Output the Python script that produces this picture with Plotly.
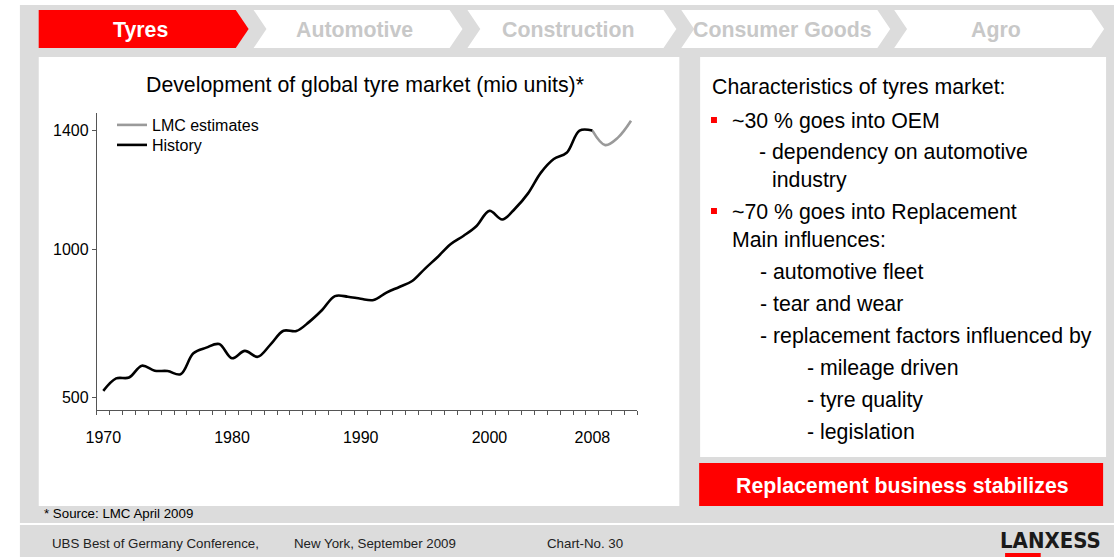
import plotly.graph_objects as go

W, H = 1114, 557

# ---------------- data ----------------
hist_years = list(range(1970, 2009))
hist_values = [522, 564, 567, 607, 590, 589, 578, 649, 668, 680,
               632, 657, 637, 679, 725, 724, 755, 795, 842, 840,
               833, 829, 854, 873, 893, 935, 975, 1018, 1046, 1079,
               1130, 1101, 1138, 1189, 1259, 1305, 1326, 1401, 1401]
est_years = [2008, 2009, 2010, 2011]
est_values = [1401, 1352, 1378, 1434]

x_tick_vals = [1970, 1980, 1990, 2000, 2008]
x_tick_text = ["1970", "1980", "1990", "2000", "2008"]
y_tick_vals = [500, 1000, 1400]

tabs = ["Tyres", "Automotive", "Construction", "Consumer Goods", "Agro"]

right_lines = [
    # (text, x, y, bullet)
    ("Characteristics of tyres market:", 706, 87, False),
    ("~30 % goes into OEM", 726, 121, True),
    ("- dependency on automotive", 753, 152, False),
    ("industry", 767, 180, False),
    ("~70 % goes into Replacement", 726, 212, True),
    ("Main influences:", 726, 240, False),
    ("- automotive fleet", 754, 272, False),
    ("- tear and wear", 754, 304, False),
    ("- replacement factors influenced by", 754, 336, False),
    ("- mileage driven", 802, 368, False),
    ("- tyre quality", 802, 400, False),
    ("- legislation", 802, 432, False),
]

FONT = "Liberation Sans, Arial, sans-serif"
GRAY_BG = "#dcdcdc"
RED = "#ff0000"
BIG = 21.3


def px(x):
    return x / W


def py(y):
    return 1 - y / H


fig = go.Figure()
fig.add_trace(go.Scatter(x=est_years, y=est_values, mode="lines", name="LMC estimates",
                         legend="legend",
                         line=dict(color="#9a9a9a", width=2.6, shape="spline")))
fig.add_trace(go.Scatter(x=hist_years, y=hist_values, mode="lines", name="History",
                         legend="legend2",
                         line=dict(color="#000000", width=2.6, shape="spline")))

shapes = []


def rect(x0, y0, x1, y1, color):
    shapes.append(dict(type="rect", xref="paper", yref="paper", x0=px(x0), x1=px(x1),
                       y0=py(y1), y1=py(y0), fillcolor=color, line=dict(width=0), layer="below"))


def poly(points, color):
    d = "M " + " L ".join(f"{px(a):.5f},{py(b):.5f}" for a, b in points) + " Z"
    shapes.append(dict(type="path", xref="paper", yref="paper", path=d,
                       fillcolor=color, line=dict(width=0), layer="below"))


# frames
rect(9, 5, 1114, 523, GRAY_BG)
rect(9, 525, 1114, 557, GRAY_BG)
rect(28, 57, 675, 506, "white")
rect(696, 57, 1106, 457, "white")
rect(695, 463, 1103, 506, RED)

# tabs
tab_left = [28, 245, 461, 677, 892]
tab_right = [227, 443, 659, 875, 1091]
ty0, ty1, tym = 10, 48, 29
dep = 13
tab_centers = [131, 347, 563, 779, 995]
annotations = []
for i, name in enumerate(tabs):
    l, r = tab_left[i], tab_right[i]
    pts = [(l, ty0), (r, ty0), (r + dep, tym), (r, ty1), (l, ty1)]
    if i > 0:
        pts.append((l + dep, tym))
    poly(pts, RED if i == 0 else "white")
    annotations.append(dict(text=f"<b>{name}</b>", x=px(tab_centers[i]), y=py(tym + 1),
                            xref="paper", yref="paper",
                            xanchor="center", yanchor="middle", showarrow=False,
                            font=dict(family=FONT, size=BIG, color="white" if i == 0 else "#c8c8c8")))

# chart title
annotations.append(dict(text="Development of global tyre market (mio units)*", x=px(357.5), y=py(85),
                        xref="paper", yref="paper", xanchor="center", yanchor="middle",
                        showarrow=False, font=dict(family=FONT, size=BIG, color="black")))

# right panel text
for text, x, y, bullet in right_lines:
    annotations.append(dict(text=text, x=px(x), y=py(y), xref="paper", yref="paper",
                            xanchor="left", yanchor="middle", showarrow=False,
                            font=dict(family=FONT, size=BIG, color="black")))
    if bullet:
        rect(707, y - 4, 713, y + 2, RED)

annotations.append(dict(text="<b>Replacement business stabilizes</b>", x=px(900), y=py(486),
                        xref="paper", yref="paper", xanchor="center", yanchor="middle",
                        showarrow=False, font=dict(family=FONT, size=BIG, color="white")))

# source & footer
annotations.append(dict(text="* Source: LMC April 2009", x=px(31), y=py(513), xref="paper", yref="paper",
                        xanchor="left", yanchor="middle", showarrow=False,
                        font=dict(family=FONT, size=13.3, color="black")))
for text, x in [("UBS Best of Germany Conference,", 39), ("New York, September 2009", 284),
                ("Chart-No. 30", 539)]:
    annotations.append(dict(text=text, x=px(x), y=py(543), xref="paper", yref="paper",
                            xanchor="left", yanchor="middle", showarrow=False,
                            font=dict(family=FONT, size=13.3, color="#222222")))
annotations.append(dict(text="<b>LANXESS</b>", x=px(1050), y=py(540), xref="paper", yref="paper",
                        xanchor="center", yanchor="middle", showarrow=False,
                        font=dict(family="DejaVu Sans Condensed, Liberation Sans Narrow, sans-serif",
                                  size=22, color="#1a1a1a")))
rect(1004, 553, 1040, 557, RED)

legend_common = dict(xanchor="left", yanchor="top",
                     font=dict(family=FONT, size=16, color="black"),
                     bgcolor="rgba(0,0,0,0)", itemclick=False, itemdoubleclick=False)

fig.update_layout(
    width=W, height=H, autosize=False,
    margin=dict(l=0, r=0, t=0, b=0),
    paper_bgcolor="white", plot_bgcolor="rgba(0,0,0,0)",
    shapes=shapes, annotations=annotations,
    showlegend=True,
    legend=dict(x=px(102), y=py(108), **legend_common),
    legend2=dict(x=px(102), y=py(128), **legend_common),
    xaxis=dict(domain=[px(86.7), px(632.7)], range=[1969.5, 2011.5],
               tickmode="array", tickvals=x_tick_vals, ticktext=x_tick_text,
               ticks="", showgrid=False, zeroline=False,
               showline=True, linecolor="#555555", linewidth=1,
               ticklabelstandoff=13,
               tickfont=dict(family=FONT, size=16, color="black"),
               minor=dict(ticks="outside", tickmode="array",
                          tickvals=[y + 0.5 for y in range(1969, 2012)],
                          ticklen=4, tickcolor="#555555", tickwidth=1, showgrid=False)),
    yaxis=dict(domain=[py(410), py(113.3)], range=[457.4, 1459.4],
               tickmode="array", tickvals=y_tick_vals,
               ticks="outside", ticklen=4, tickcolor="#555555",
               showgrid=False, zeroline=False,
               showline=True, linecolor="#555555", linewidth=1,
               tickfont=dict(family=FONT, size=16, color="black")),
)

fig.write_html(
    "out.html",
    config={"displayModeBar": False},
    post_script=("document.body.style.margin='0';"
                 "var d=document.getElementById('{plot_id}');"
                 "d.style.position='absolute';d.style.left='0px';d.style.top='0px';"),
)
